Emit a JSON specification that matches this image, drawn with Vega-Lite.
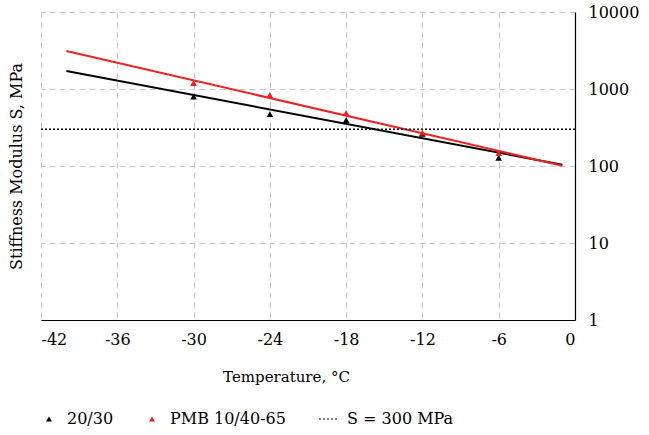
{
  "$schema": "https://vega.github.io/schema/vega-lite/v6.json",
  "width": 534,
  "height": 308,
  "padding": {"left": 8, "top": 4, "right": 5, "bottom": 5},
  "background": "white",
  "config": {
    "view": {"stroke": null},
    "font": "DejaVu Serif",
    "style": {"guide-label": {"font": "DejaVu Serif", "fontSize": 16, "fill": "black"}},
    "axis": {"labelFont": "DejaVu Serif", "titleFont": "DejaVu Serif", "labelFontSize": 16, "titleFontSize": 16, "labelColor": "black", "titleColor": "black", "titleFontWeight": "normal"},
    "legend": {"labelFont": "DejaVu Serif", "labelFontSize": 16, "labelColor": "black"}
  },
  "datasets": {
    "pts": [
      {"series": "20/30", "T": -30, "S": 794},
      {"series": "20/30", "T": -24, "S": 473},
      {"series": "20/30", "T": -18, "S": 395},
      {"series": "20/30", "T": -12, "S": 262},
      {"series": "20/30", "T": -6, "S": 128},
      {"series": "PMB 10/40-65", "T": -30, "S": 1197},
      {"series": "PMB 10/40-65", "T": -24, "S": 836},
      {"series": "PMB 10/40-65", "T": -18, "S": 488},
      {"series": "PMB 10/40-65", "T": -12, "S": 271},
      {"series": "PMB 10/40-65", "T": -6, "S": 147}
    ],
    "trend": [
      {"series": "20/30", "T": -40, "S": 1714},
      {"series": "20/30", "T": -1, "S": 104},
      {"series": "PMB 10/40-65", "T": -40, "S": 3118},
      {"series": "PMB 10/40-65", "T": -1, "S": 101}
    ],
    "limit": [
      {"series": "S = 300 MPa", "S": 300}
    ]
  },
  "encoding": {
    "y": {
      "field": "S", "type": "quantitative",
      "scale": {"type": "log", "domain": [1, 10000], "nice": false},
      "axis": {
        "orient": "right", "values": [1, 10, 100, 1000, 10000], "format": "d",
        "title": "Stiffness Modulus S, MPa",
        "titleAngle": -90, "titleX": -551, "titleY": 154, "titleAlign": "center", "titleBaseline": "bottom",
        "ticks": false, "labelPadding": 13, "domainColor": "black", "domainWidth": 1.2,
        "gridColor": "#c8c8c8", "gridDash": [6, 4], "gridWidth": 1
      }
    },
    "color": {"field": "series", "type": "nominal",
      "scale": {"domain": ["20/30", "PMB 10/40-65", "S = 300 MPa"], "range": ["black", "#ee2222", "black"]},
      "legend": {
        "orient": "bottom", "direction": "horizontal", "title": null,
        "values": ["20/30", "PMB 10/40-65", "S = 300 MPa"],
        "labelFont": "DejaVu Serif", "labelFontSize": 16, "labelColor": "black", "labelLimit": 300,
        "offset": 27, "columnPadding": 30, "labelOffset": 10,
        "encode": {
          "labels": {"update": {"fontSize": {"value": 16}, "font": {"value": "DejaVu Serif"}}},
          "symbols": {"update": {
            "shape": {"signal": "datum.value === 'S = 300 MPa' ? 'stroke' : 'triangle-up'"},
            "size": {"signal": "datum.value === 'S = 300 MPa' ? 400 : 36"},
            "fill": {"signal": "datum.value === 'PMB 10/40-65' ? '#ee2222' : 'black'"},
            "stroke": {"signal": "datum.value === 'PMB 10/40-65' ? '#ee2222' : 'black'"},
            "strokeWidth": {"signal": "datum.value === 'S = 300 MPa' ? 1.2 : 0"},
            "strokeDash": {"signal": "datum.value === 'S = 300 MPa' ? [2, 2] : [1, 0]"},
            "opacity": {"value": 1}
          }}
        }
      }
    }
  },
  "layer": [
    {
      "data": {"name": "trend"},
      "mark": {"type": "line", "strokeWidth": 2},
      "encoding": {
        "x": {"field": "T", "type": "quantitative",
          "scale": {"domain": [-42, 0], "nice": false},
          "axis": {"values": [-42, -36, -30, -24, -18, -12, -6, 0], "labelExpr": "'' + datum.value", "title": "Temperature, °C", "titleFontSize": 15, "titleX": 245, "titleAlign": "center", "ticks": false, "labelPadding": 11, "titlePadding": 22, "domainColor": "black", "domainWidth": 1.2, "gridColor": "#c8c8c8", "gridDash": [6, 4], "gridWidth": 1}},
        "detail": {"field": "series"}
      }
    },
    {
      "data": {"name": "limit"},
      "mark": {"type": "rule", "strokeDash": [2, 2], "strokeWidth": 1.5},
      "encoding": {}
    },
    {
      "data": {"name": "pts"},
      "mark": {"type": "point", "shape": "triangle-up", "filled": true, "size": 45, "opacity": 1},
      "encoding": {
        "x": {"field": "T", "type": "quantitative"}
      }
    }
  ]
}
